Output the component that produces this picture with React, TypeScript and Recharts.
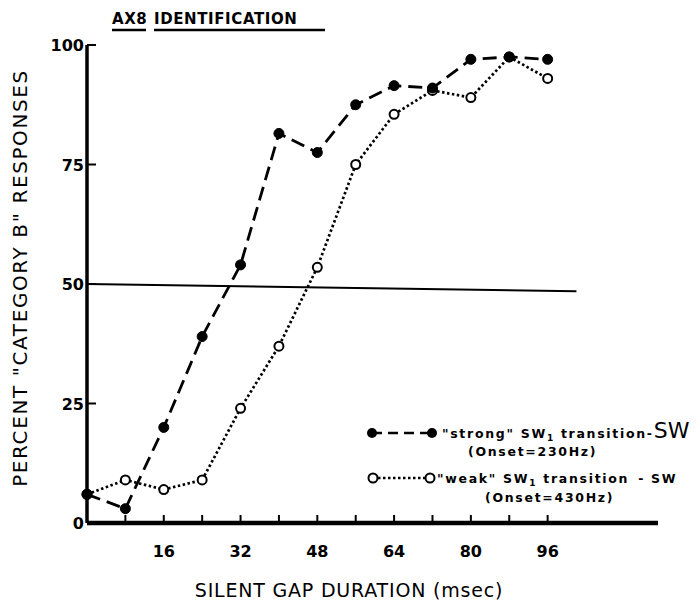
import { LineChart, Line, XAxis, YAxis, ReferenceLine } from "recharts";

const gapMs = [0, 8, 16, 24, 32, 40, 48, 56, 64, 72, 80, 88, 96];
const strongPct = [6, 3, 20, 39, 54, 81.5, 77.5, 87.5, 91.5, 91, 97, 97.5, 97];
const weakPct = [6, 9, 7, 9, 24, 37, 53.5, 75, 85.5, 90.5, 89, 97.5, 93];
const xTicks = [8, 16, 24, 32, 40, 48, 56, 64, 72, 80, 88, 96];
const xLabels = [16, 32, 48, 64, 80, 96];
const yTicks = [0, 25, 50, 75, 100];
const criterion = [
  { x: 0, y: 50 },
  { x: 102, y: 48.5 },
];

const data = gapMs.map((ms, i) => ({ ms, strong: strongPct[i], weak: weakPct[i] }));

const FONT = "'DejaVu Sans', sans-serif";

function XTick({ x, y, payload }: any) {
  const v = payload.value;
  return (
    <g>
      <line x1={x} y1={y} x2={x} y2={y - 8} stroke="#000" strokeWidth={2} />
      {xLabels.includes(v) && (
        <text x={x} y={y + 34} textAnchor="middle" fontFamily={FONT} fontWeight="bold" fontSize={16} fill="#000">
          {v}
        </text>
      )}
    </g>
  );
}

function YTick({ x, y, payload }: any) {
  return (
    <g>
      {payload.value > 0 && <line x1={x} y1={y} x2={x + 9} y2={y} stroke="#000" strokeWidth={2} />}
      <text x={x - 3} y={y + 6} textAnchor="end" fontFamily={FONT} fontWeight="bold" fontSize={16} fill="#000">
        {payload.value}
      </text>
    </g>
  );
}

function Overlay() {
  const small = { fontFamily: FONT, fontWeight: "bold" as const, fontSize: 12.5, letterSpacing: 1.7 };
  return (
    <svg width={700} height={604} style={{ position: "absolute", left: 0, top: 0, pointerEvents: "none" }}>
      {/* title */}
      <text x={112} y={24} fontFamily={FONT} fontWeight="bold" fontSize={15} letterSpacing={0.6}>AX8</text>
      <line x1={112} y1={30} x2={146} y2={30} stroke="#000" strokeWidth={2.5} />
      <text x={154} y={24} fontFamily={FONT} fontWeight="bold" fontSize={15} letterSpacing={0.6}>IDENTIFICATION</text>
      <line x1={154} y1={30} x2={325} y2={30} stroke="#000" strokeWidth={2.5} />

      {/* axis titles */}
      <text transform="translate(27,278) rotate(-90)" textAnchor="middle" fontFamily={FONT} fontSize={20} letterSpacing={1.6}>
        PERCENT "CATEGORY B" RESPONSES
      </text>
      <text x={349} y={597} textAnchor="middle" fontFamily={FONT} fontSize={19} letterSpacing={0.8}>
        SILENT GAP DURATION (msec)
      </text>

      {/* legend */}
      <line x1={372} y1={433} x2={432} y2={433} stroke="#000" strokeWidth={2.5} strokeDasharray="10 6" />
      <circle cx={372} cy={433} r={5} fill="#000" />
      <circle cx={432} cy={433} r={5} fill="#000" />
      <text x={442} y={438} {...small}>
        "strong" SW<tspan fontSize={9} dy={3}>1</tspan>
        <tspan dy={-3}> transition-</tspan>
        <tspan fontWeight="normal" fontSize={22} letterSpacing={0}>SW</tspan>
      </text>
      <text x={468} y={456} {...small}>(Onset=230Hz)</text>

      <line x1={373} y1={478} x2={430} y2={478} stroke="#000" strokeWidth={2.5} strokeDasharray="2.5 2.5" />
      <circle cx={373} cy={478} r={4.5} fill="#fff" stroke="#000" strokeWidth={2} />
      <circle cx={430} cy={478} r={4.5} fill="#fff" stroke="#000" strokeWidth={2} />
      <text x={437} y={483} {...small}>
        "weak" SW<tspan fontSize={9} dy={3}>1</tspan>
        <tspan dy={-3}> transition</tspan>
        <tspan dx={9}>-</tspan>
        <tspan dx={6}>SW</tspan>
      </text>
      <text x={485} y={502} {...small}>(Onset=430Hz)</text>
    </svg>
  );
}

export default function App() {
  return (
    <div style={{ position: "absolute", left: 0, top: 0, width: 700, height: 604, background: "#fff" }}>
      <LineChart width={700} height={604} data={data} margin={{ top: 45, right: 42, bottom: 51, left: 47 }}>
        <XAxis
          dataKey="ms"
          type="number"
          domain={[0, 119]}
          ticks={xTicks}
          interval={0}
          axisLine={{ stroke: "#000", strokeWidth: 4.5 }}
          tickLine={false}
          tickSize={0}
          tickMargin={0}
          tick={XTick}
          height={30}
        />
        <YAxis
          type="number"
          domain={[0, 100]}
          ticks={yTicks}
          interval={0}
          axisLine={{ stroke: "#000", strokeWidth: 3.5 }}
          tickLine={false}
          tickSize={0}
          tickMargin={0}
          tick={YTick}
          width={40}
        />
        <ReferenceLine segment={criterion} stroke="#000" strokeWidth={2} ifOverflow="visible" />
        <Line
          dataKey="weak"
          stroke="#000"
          strokeWidth={2.7}
          strokeDasharray="2.5 2.5"
          dot={{ r: 4.5, fill: "#fff", stroke: "#000", strokeWidth: 2, strokeDasharray: "none" }}
          activeDot={false}
          isAnimationActive={false}
        />
        <Line
          dataKey="strong"
          stroke="#000"
          strokeWidth={2.8}
          strokeDasharray="14 7"
          dot={{ r: 5, fill: "#000", stroke: "#000", strokeWidth: 1, strokeDasharray: "none" }}
          activeDot={false}
          isAnimationActive={false}
        />
      </LineChart>
      <Overlay />
    </div>
  );
}
